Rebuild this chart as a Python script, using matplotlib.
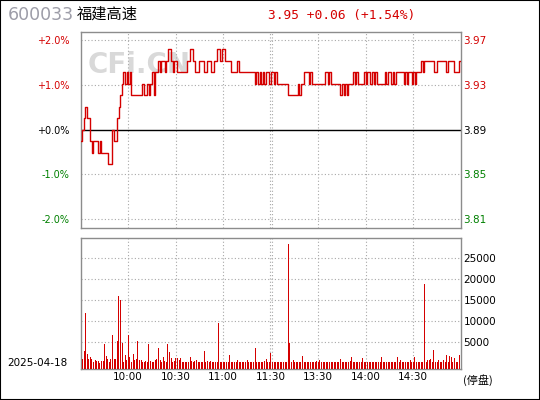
import numpy as np
import matplotlib
matplotlib.use("Agg")
import matplotlib.pyplot as plt
from matplotlib.patches import Rectangle

plt.rcParams['font.family'] = ['DejaVu Sans', 'Noto Sans CJK SC']

# ============================================================
# DATA
# ============================================================
code = "600033"
name = "福建高速"
trade_date = "2025-04-18"
prev_close = 3.89
last_price = 3.95
change = 0.06
change_pct = 1.54

# one price per minute, 09:30 ... 11:30|13:00 ... 15:00
prices = [
    3.88, 3.89, 3.90, 3.91, 3.90, 3.90, 3.88, 3.87, 3.88, 3.88,
    3.88, 3.87, 3.88, 3.87, 3.87, 3.87, 3.87, 3.86, 3.86, 3.86,
    3.89, 3.88, 3.88, 3.90, 3.91, 3.92, 3.93, 3.94, 3.93, 3.94,
    3.93, 3.94, 3.92, 3.92, 3.92, 3.92, 3.92, 3.92, 3.92, 3.93,
    3.92, 3.92, 3.93, 3.92, 3.93, 3.94, 3.92, 3.94, 3.94, 3.95,
    3.94, 3.95, 3.95, 3.94, 3.95, 3.96, 3.96, 3.95, 3.94, 3.95,
    3.95, 3.94, 3.94, 3.94, 3.94, 3.94, 3.94, 3.95, 3.95, 3.96,
    3.96, 3.95, 3.94, 3.94, 3.94, 3.95, 3.95, 3.95, 3.94, 3.94,
    3.95, 3.95, 3.94, 3.94, 3.95, 3.95, 3.96, 3.96, 3.95, 3.96,
    3.96, 3.95, 3.95, 3.95, 3.95, 3.94, 3.94, 3.94, 3.94, 3.95,
    3.94, 3.94, 3.94, 3.94, 3.94, 3.94, 3.94, 3.94, 3.94, 3.94,
    3.93, 3.94, 3.93, 3.94, 3.93, 3.94, 3.93, 3.94, 3.94, 3.93,
    3.94, 3.94, 3.93, 3.94, 3.93, 3.93, 3.93, 3.93, 3.93, 3.93,
    3.93, 3.92, 3.92, 3.92, 3.92, 3.92, 3.92, 3.93, 3.92, 3.93,
    3.93, 3.94, 3.94, 3.94, 3.93, 3.94, 3.93, 3.93, 3.93, 3.93,
    3.93, 3.93, 3.93, 3.93, 3.94, 3.94, 3.93, 3.94, 3.93, 3.93,
    3.93, 3.93, 3.93, 3.93, 3.92, 3.93, 3.92, 3.93, 3.92, 3.93,
    3.93, 3.93, 3.94, 3.93, 3.94, 3.93, 3.93, 3.93, 3.93, 3.94,
    3.93, 3.94, 3.94, 3.93, 3.94, 3.93, 3.94, 3.93, 3.93, 3.93,
    3.93, 3.93, 3.94, 3.93, 3.94, 3.94, 3.93, 3.94, 3.93, 3.94,
    3.94, 3.94, 3.94, 3.94, 3.93, 3.94, 3.93, 3.94, 3.94, 3.93,
    3.94, 3.93, 3.94, 3.94, 3.94, 3.95, 3.94, 3.95, 3.95, 3.95,
    3.95, 3.95, 3.95, 3.94, 3.94, 3.95, 3.95, 3.95, 3.95, 3.95,
    3.95, 3.94, 3.95, 3.95, 3.95, 3.95, 3.94, 3.94, 3.94, 3.95,
    3.95,
]

# volume per minute (shares), minutes 1 ... 239
volumes = [
    1000, 2900, 12000, 2200, 1000, 1600, 1000, 400, 800, 500,
    550, 150, 500, 550, 4600, 1700, 1000, 400, 1000, 6700,
    1000, 1000, 5400, 16000, 15000, 4800, 200, 2000, 800, 6700,
    1400, 200, 2200, 800, 1000, 5300, 800, 800, 200, 200,
    600, 200, 4600, 600, 300, 200, 800, 1000, 3650, 800,
    400, 1400, 600, 200, 4600, 2800, 1300, 200, 600, 1300,
    1300, 800, 1300, 200, 200, 200, 200, 200, 1400, 600,
    200, 550, 800, 200, 400, 200, 200, 2900, 400, 600,
    200, 500, 200, 200, 400, 400, 9500, 400, 400, 200,
    200, 200, 200, 1900, 200, 200, 200, 200, 800, 200,
    200, 200, 200, 200, 800, 200, 200, 200, 200, 3650,
    200, 200, 200, 200, 200, 550, 1000, 200, 400, 2500,
    200, 200, 200, 400, 400, 200, 400, 200, 200, 200,
    28500, 4900, 400, 800, 200, 200, 200, 200, 200, 1700,
    200, 400, 200, 200, 200, 400, 200, 200, 550, 400,
    800, 400, 200, 200, 200, 200, 200, 200, 200, 200,
    200, 200, 200, 1000, 200, 200, 200, 200, 200, 600,
    1600, 400, 200, 400, 400, 200, 200, 1300, 400, 200,
    200, 400, 200, 400, 200, 200, 200, 200, 200, 1600,
    400, 200, 200, 200, 400, 200, 400, 200, 200, 1400,
    200, 800, 400, 200, 200, 200, 200, 800, 400, 200,
    1400, 400, 200, 200, 200, 200, 18900, 400, 800, 800,
    1000, 200, 3200, 400, 200, 800, 200, 400, 800, 200,
    2000, 200, 1800, 1600, 200, 1200, 200, 200, 1900,
]

time_ticks = [30, 60, 90, 120, 150, 180, 210]
time_labels = ["10:00", "10:30", "11:00", "11:30", "13:30", "14:00", "14:30"]
pct_ticks = [2.0, 1.0, 0.0, -1.0, -2.0]
vol_ticks = [5000, 10000, 15000, 20000, 25000]

RED = "#d40000"
GREEN = "#008000"
GRID = "#a8a8a8"
FRAME = "#8c8c8c"

# ============================================================
# FIGURE
# ============================================================
fig = plt.figure(figsize=(5.4, 4.0), dpi=100)
fig.patches.append(Rectangle((0, 0), 1, 1, transform=fig.transFigure,
                             fill=False, edgecolor="black", linewidth=1.5))

ax = fig.add_axes([0.1494, 0.4293, 0.7037, 0.4915])
ax2 = fig.add_axes([0.1494, 0.0768, 0.7037, 0.3275])

for a in (ax, ax2):
    for s in a.spines.values():
        s.set_color(FRAME)
        s.set_linewidth(1.0)
    a.set_xlim(0, 240)
    a.tick_params(length=0)
    for t in time_ticks:
        if t == 120:
            a.axvline(119.45, color=GRID, linestyle=(0, (1, 2)), linewidth=0.8)
            a.axvline(120.55, color=GRID, linestyle=(0, (1, 2)), linewidth=0.8)
        else:
            a.axvline(t, color=GRID, linestyle=(0, (1, 2)), linewidth=0.8)

# ---------------- price panel ----------------
pct = (np.array(prices) - prev_close) / prev_close * 100
minutes = np.arange(len(prices))
ax.set_ylim(-2.21, 2.19)
for p in pct_ticks:
    if p == 0:
        ax.axhline(0, color="black", linewidth=1.0, zorder=2)
    else:
        ax.axhline(p, color=GRID, linestyle=(0, (1, 2)), linewidth=0.8)

ax.text(0.155, 0.83, "CFi.CN", transform=ax.transAxes, fontsize=20,
        fontweight="bold", color="#d9d9d9", ha="center", va="center", zorder=1)

ax.plot(minutes, pct, color=RED, linewidth=1.0, drawstyle="steps-post", zorder=3)
ax.set_xticks([])

ax.set_yticks(pct_ticks)
ax.set_yticklabels([f"{p:+.1f}%" for p in pct_ticks], fontsize=7)
ax.tick_params(axis="y", pad=8)
tick_colors = [RED if p > 0 else ("black" if p == 0 else GREEN) for p in pct_ticks]
for lab, c in zip(ax.get_yticklabels(), tick_colors):
    lab.set_color(c)

axr = ax.twinx()
axr.set_ylim(ax.get_ylim())
axr.set_yticks(pct_ticks)
axr.set_yticklabels([f"{prev_close * (1 + p / 100):.2f}" for p in pct_ticks], fontsize=7.5)
axr.tick_params(length=0, pad=1.5)
for s in axr.spines.values():
    s.set_visible(False)
for lab, c in zip(axr.get_yticklabels(), tick_colors):
    lab.set_color(c)

# ---------------- volume panel ----------------
vol_floor = -1430
ax2.set_ylim(vol_floor, 29760)
for v in vol_ticks:
    ax2.axhline(v, color=GRID, linestyle=(0, (1, 2)), linewidth=0.8)
vx = np.arange(1, len(volumes) + 1) - 0.2
ax2.vlines(vx, vol_floor, volumes, colors=RED, linewidth=0.7,
           antialiased=False, zorder=3)

ax2.yaxis.tick_right()
ax2.set_yticks(vol_ticks)
ax2.set_yticklabels([str(v) for v in vol_ticks], fontsize=7.5)
ax2.tick_params(axis="y", pad=2)
ax2.set_xticks(time_ticks)
ax2.set_xticklabels(time_labels, fontsize=7.5)
ax2.tick_params(axis="x", pad=2)

# ---------------- header / footer texts ----------------
fig.text(8 / 540, 1 - 15 / 400, code, fontsize=12.5, color="#9d9da8",
         ha="left", va="center")
fig.text(77 / 540, 1 - 14 / 400, name, fontsize=11, color="black",
         family=["Noto Sans CJK SC", "DejaVu Sans"], ha="left", va="center")
fig.text(268 / 540, 1 - 15 / 400,
         f"{last_price:.2f} {change:+.2f} ({change_pct:+.2f}%)",
         fontsize=9.3, color=RED, family="DejaVu Sans Mono", ha="left", va="center")
fig.text(7 / 540, 1 - 363 / 400, trade_date, fontsize=7.5, color="black",
         ha="left", va="center")
fig.text(463 / 540, 1 - 380 / 400, "(停盘)", fontsize=8, color="black",
         family=["Noto Sans CJK SC", "DejaVu Sans"], ha="left", va="center")

plt.savefig("out.png", dpi=100)
